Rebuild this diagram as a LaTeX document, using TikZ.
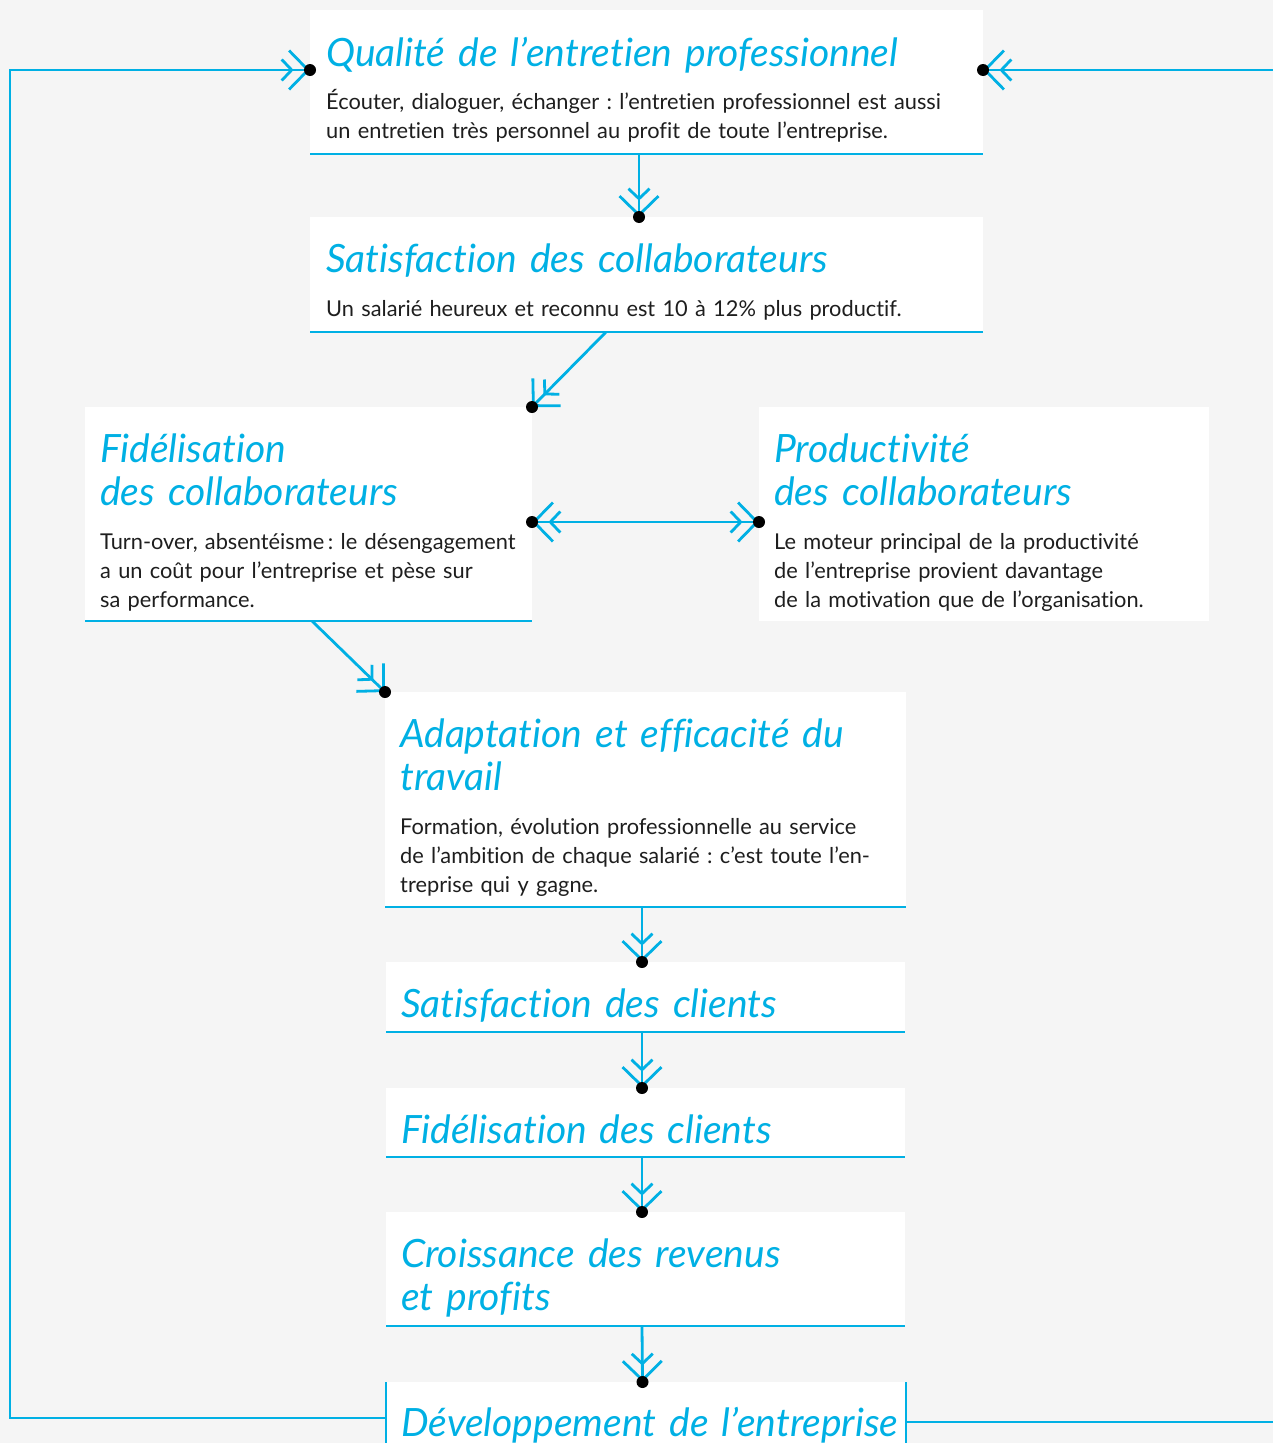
\documentclass[tikz,border=0pt]{standalone}
\usepackage{fontspec}
\setmainfont{Lato}[Ligatures=NoCommon]
\usetikzlibrary{arrows.meta}
\definecolor{cy}{RGB}{0,176,228}
\definecolor{bg}{RGB}{245,245,245}
\definecolor{txt}{RGB}{30,30,30}
\frenchspacing
\tikzset{
  box/.style={fill=white, draw=none, anchor=north west, inner sep=0pt, outer sep=0pt},
  ttl/.style={anchor=base west, inner sep=0pt, text=cy, font=\fontsize{39}{43}\selectfont\itshape, align=left, text width=640pt},
  bdy/.style={anchor=base west, inner sep=0pt, text=txt, font=\fontsize{21.8}{29}\selectfont, align=left, text width=640pt},
  rule/.style={draw=cy, line width=2.8pt},
  chev/.tip={Straight Barb[length=10pt,width=21pt,line width=2.8pt,sep=-6pt] Straight Barb[length=19pt,width=39pt,line width=2.8pt]},
  conn/.style={draw=cy, line width=2.8pt, -chev},
  dconn/.style={draw=cy, line width=2.8pt, chev-chev},
  dot/.style={fill=black}
}
\begin{document}
\begin{tikzpicture}[x=1pt,y=-1pt]
\useasboundingbox (0,0) rectangle (1273,1443);
\begin{scope}
\clip (0,0) rectangle (1273,1443);
\fill[bg] (0,0) rectangle (1273,1443);

% boxes
\node[box, minimum width=673pt, minimum height=144pt] (q) at (310,10) {};
\node[box, minimum width=673pt, minimum height=115pt] (s) at (310,217) {};
\node[box, minimum width=447pt, minimum height=214pt] (f) at (85,407) {};
\node[box, minimum width=450pt, minimum height=214pt] (p) at (759,407) {};
\node[box, minimum width=521pt, minimum height=215pt] (a) at (385,692) {};
\node[box, minimum width=519pt, minimum height=70pt] (sc) at (386,962) {};
\node[box, minimum width=519pt, minimum height=69pt] (fc) at (386,1088) {};
\node[box, minimum width=519pt, minimum height=114pt] (cr) at (386,1212) {};
\node[box, minimum width=520pt, minimum height=72pt] (dev) at (386,1382) {};

% rules
\foreach \b in {q,s,f,a,sc,fc,cr}{\draw[rule] (\b.south west) -- (\b.south east);}
\draw[rule] (dev.north west) -- (dev.south west);
\draw[rule] (dev.north east) -- (dev.south east);

% texts
\node[ttl] (qt) at (326,66) {Qualité de l’entretien professionnel};
\node[bdy] (qb) at (326,109) {Écouter, dialoguer, échanger : l’entretien professionnel est aussi\\un entretien très personnel au profit de toute l’entreprise.};
\node[ttl] (st) at (326,272) {Satisfaction des collaborateurs};
\node[bdy] (sb) at (326,316) {Un salarié heureux et reconnu est 10 à 12\% plus productif.};
\node[ttl] (ft) at (100,462) {Fidélisation\\des collaborateurs};
\node[bdy] (fb) at (100,549) {Turn-over, absentéisme\,: le désengagement\\a un coût pour l’entreprise et pèse sur\\sa performance.};
\node[ttl] (pt) at (774,462) {Productivité\\des collaborateurs};
\node[bdy] (pb) at (774,549) {Le moteur principal de la productivité\\de l’entreprise provient davantage\\de la motivation que de l’organisation.};
\node[ttl] (at) at (400,747) {Adaptation et efficacité du\\travail};
\node[bdy] (ab) at (400,834) {Formation, évolution professionnelle au service\\de l’ambition de chaque salarié : c’est toute l’en-\\treprise qui y gagne.};
\node[ttl] (sct) at (401,1017) {Satisfaction des clients};
\node[ttl] (fct) at (401,1143) {Fidélisation des clients};
\node[ttl] (crt) at (401,1267) {Croissance des revenus\\et profits};
\node[ttl] (devt) at (401,1436) {Développement de l’entreprise};

% connectors
\draw[conn] ([xshift=-7.5pt]q.south) -- ([xshift=-7.5pt]s.north) coordinate (e1);
\draw[conn] ([xshift=-40.5pt]s.south) -- (f.north east) coordinate (e2);
\draw[dconn] ([yshift=-8pt]f.east) coordinate (e3a) -- ([yshift=-8pt]p.west) coordinate (e3b);
\draw[conn] ([xshift=3.5pt]f.south) -- (a.north west) coordinate (e4);
\draw[conn] ([xshift=-3.5pt]a.south) -- ([xshift=-3.5pt]sc.north) coordinate (e5);
\draw[conn] ([xshift=-3.5pt]sc.south) -- ([xshift=-3.5pt]fc.north) coordinate (e6);
\draw[conn] ([xshift=-3.5pt]fc.south) -- ([xshift=-3.5pt]cr.north) coordinate (e7);
\draw[conn] ([xshift=-3.5pt]cr.south) -- ([xshift=-3.5pt]dev.north) coordinate (e8);
\draw[conn] (dev.west) -- ++(-376,0) |- ([yshift=12pt]q.west) coordinate (e9);
\draw[conn] ([yshift=-4pt]dev.east) -- ++(420,0) |- ([yshift=12pt]q.east) coordinate (e10);

\foreach \c in {e1,e2,e3a,e3b,e4,e5,e6,e7,e8,e9,e10}{\fill[dot] (\c) circle (6pt);}
\end{scope}
\end{tikzpicture}
\end{document}
